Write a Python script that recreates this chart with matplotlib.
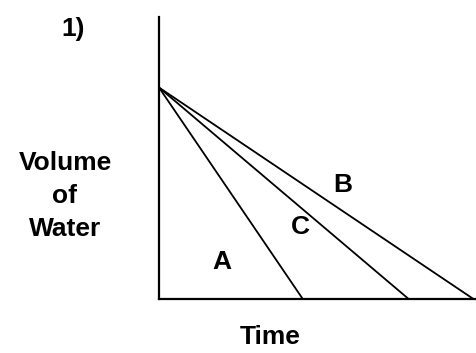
import matplotlib
matplotlib.use("Agg")
import matplotlib.pyplot as plt

# three draining curves: volume starts at V0, falls linearly to zero at end time
LABELS = ["A", "C", "B"]
V0 = 7.5
END_TIME = [4.55, 7.9, 9.95]
LABEL_POS = [(1.99, 1.31), (4.46, 2.55), (5.82, 4.04)]

plt.rcParams["font.family"] = ["Liberation Sans", "DejaVu Sans"]
FS = 19

fig = plt.figure(figsize=(4.77, 3.53), dpi=100)
ax = fig.add_axes([159 / 477, 54 / 353, 316 / 477, 282 / 353])
ax.set_xlim(0, 10)
ax.set_ylim(0, 10)
for s in ("top", "right"):
    ax.spines[s].set_visible(False)
for s in ("left", "bottom"):
    ax.spines[s].set_linewidth(1.6)
ax.set_xticks([]); ax.set_yticks([])

for lab, t, (lx, ly) in zip(LABELS, END_TIME, LABEL_POS):
    ax.plot([0, t], [V0, 0], color="k", lw=1.3, solid_capstyle="butt", clip_on=False)
    ax.text(lx, ly, lab, fontsize=FS, fontweight="bold", ha="center", va="center")

fig.text(73 / 477, 1 - 29 / 353, "1)", fontsize=FS, fontweight="bold", ha="center", va="center")
fig.text(65 / 477, 1 - 196 / 353, "Volume\nof\nWater", fontsize=FS, fontweight="bold",
         ha="center", va="center", linespacing=1.45)
fig.text(270 / 477, 1 - 337 / 353, "Time", fontsize=FS, fontweight="bold", ha="center", va="center")

fig.savefig("out.png", dpi=100)
